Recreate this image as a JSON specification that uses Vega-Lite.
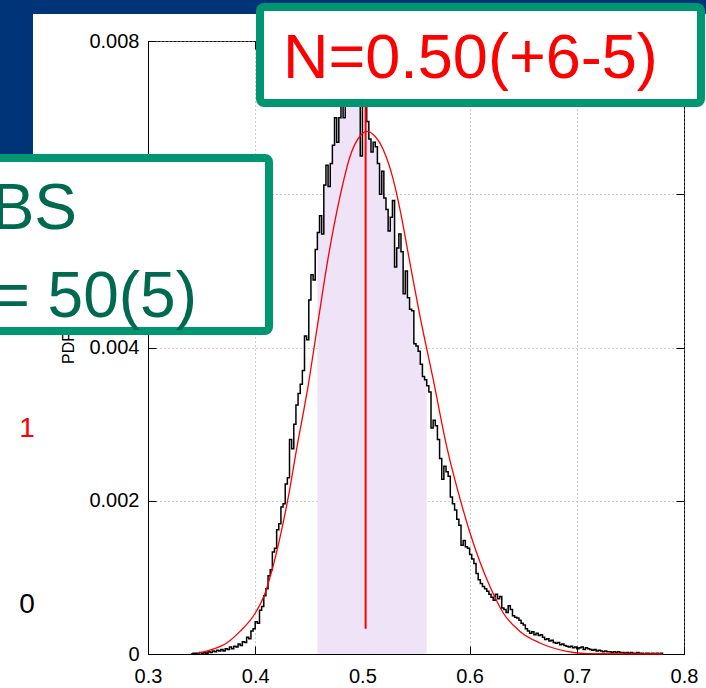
{
  "$schema": "https://vega.github.io/schema/vega-lite/v6.json",
  "width": 536,
  "height": 613,
  "autosize": {"type": "none"},
  "padding": {"left": 148, "top": 41, "right": 22, "bottom": 34},
  "background": "white",
  "config": {
    "view": {"stroke": "black", "strokeWidth": 1},
    "font": "Liberation Sans",
    "axis": {
      "domainColor": "black",
      "tickColor": "black",
      "labelColor": "black",
      "labelFont": "Liberation Sans",
      "labelFontSize": 20,
      "tickSize": -8,
      "gridColor": "#9a9a9a",
      "gridDash": [1, 3],
      "gridWidth": 1,
      "titleFont": "Liberation Sans",
      "titleFontSize": 16,
      "titleFontWeight": "normal",
      "titleColor": "black"
    }
  },
  "datasets": {
    "hist": [
      {"x":0.340,"y":0.00000},{"x":0.342,"y":0.00001},{"x":0.344,"y":0.00001},{"x":0.346,"y":0.00000},{"x":0.348,"y":0.00002},
      {"x":0.350,"y":0.00001},{"x":0.352,"y":0.00002},{"x":0.354,"y":0.00001},{"x":0.356,"y":0.00003},{"x":0.358,"y":0.00002},
      {"x":0.360,"y":0.00004},{"x":0.362,"y":0.00003},{"x":0.364,"y":0.00005},{"x":0.366,"y":0.00004},{"x":0.368,"y":0.00006},
      {"x":0.370,"y":0.00004},{"x":0.372,"y":0.00007},{"x":0.374,"y":0.00006},{"x":0.376,"y":0.00009},{"x":0.378,"y":0.00007},
      {"x":0.380,"y":0.00010},{"x":0.382,"y":0.00009},{"x":0.384,"y":0.00013},{"x":0.386,"y":0.00011},{"x":0.388,"y":0.00016},
      {"x":0.390,"y":0.00015},{"x":0.392,"y":0.00022},{"x":0.394,"y":0.00020},{"x":0.396,"y":0.00030},{"x":0.398,"y":0.00033},
      {"x":0.400,"y":0.00042},{"x":0.402,"y":0.00040},{"x":0.404,"y":0.00057},{"x":0.406,"y":0.00062},{"x":0.408,"y":0.00076},
      {"x":0.410,"y":0.00085},{"x":0.412,"y":0.00102},{"x":0.414,"y":0.00110},{"x":0.416,"y":0.00133},{"x":0.418,"y":0.00138},
      {"x":0.420,"y":0.00162},{"x":0.422,"y":0.00170},{"x":0.424,"y":0.00192},{"x":0.426,"y":0.00196},{"x":0.428,"y":0.00222},
      {"x":0.430,"y":0.00230},{"x":0.432,"y":0.00280},{"x":0.434,"y":0.00268},{"x":0.436,"y":0.00300},{"x":0.438,"y":0.00325},
      {"x":0.440,"y":0.00340},{"x":0.442,"y":0.00352},{"x":0.444,"y":0.00370},{"x":0.446,"y":0.00415},{"x":0.448,"y":0.00410},
      {"x":0.450,"y":0.00462},{"x":0.452,"y":0.00495},{"x":0.454,"y":0.00488},{"x":0.456,"y":0.00528},{"x":0.458,"y":0.00550},
      {"x":0.460,"y":0.00572},{"x":0.462,"y":0.00548},{"x":0.464,"y":0.00612},{"x":0.466,"y":0.00638},{"x":0.468,"y":0.00610},
      {"x":0.470,"y":0.00640},{"x":0.472,"y":0.00664},{"x":0.474,"y":0.00700},{"x":0.476,"y":0.00668},{"x":0.478,"y":0.00700},
      {"x":0.480,"y":0.00735},{"x":0.482,"y":0.00700},{"x":0.484,"y":0.00745},{"x":0.486,"y":0.00730},{"x":0.488,"y":0.00770},
      {"x":0.490,"y":0.00755},{"x":0.492,"y":0.00785},{"x":0.494,"y":0.00742},{"x":0.496,"y":0.00770},{"x":0.498,"y":0.00650},
      {"x":0.500,"y":0.00760},{"x":0.502,"y":0.00730},{"x":0.504,"y":0.00695},{"x":0.506,"y":0.00672},{"x":0.508,"y":0.00655},
      {"x":0.510,"y":0.00668},{"x":0.512,"y":0.00662},{"x":0.514,"y":0.00640},{"x":0.516,"y":0.00600},{"x":0.518,"y":0.00630},
      {"x":0.520,"y":0.00595},{"x":0.522,"y":0.00580},{"x":0.524,"y":0.00552},{"x":0.526,"y":0.00570},{"x":0.528,"y":0.00592},
      {"x":0.530,"y":0.00505},{"x":0.532,"y":0.00530},{"x":0.534,"y":0.00548},{"x":0.536,"y":0.00525},{"x":0.538,"y":0.00470},
      {"x":0.540,"y":0.00500},{"x":0.542,"y":0.00465},{"x":0.544,"y":0.00450},{"x":0.546,"y":0.00448},{"x":0.548,"y":0.00405},
      {"x":0.550,"y":0.00402},{"x":0.552,"y":0.00395},{"x":0.554,"y":0.00378},{"x":0.556,"y":0.00362},{"x":0.558,"y":0.00358},
      {"x":0.560,"y":0.00350},{"x":0.562,"y":0.00342},{"x":0.564,"y":0.00295},{"x":0.566,"y":0.00305},{"x":0.568,"y":0.00298},
      {"x":0.570,"y":0.00280},{"x":0.572,"y":0.00255},{"x":0.574,"y":0.00228},{"x":0.576,"y":0.00245},{"x":0.578,"y":0.00238},
      {"x":0.580,"y":0.00232},{"x":0.582,"y":0.00205},{"x":0.584,"y":0.00196},{"x":0.586,"y":0.00188},{"x":0.588,"y":0.00176},
      {"x":0.590,"y":0.00168},{"x":0.592,"y":0.00142},{"x":0.594,"y":0.00148},{"x":0.596,"y":0.00140},{"x":0.598,"y":0.00138},
      {"x":0.600,"y":0.00130},{"x":0.602,"y":0.00124},{"x":0.604,"y":0.00118},{"x":0.606,"y":0.00105},{"x":0.608,"y":0.00097},
      {"x":0.610,"y":0.00092},{"x":0.612,"y":0.00088},{"x":0.614,"y":0.00085},{"x":0.616,"y":0.00082},{"x":0.618,"y":0.00078},
      {"x":0.620,"y":0.00074},{"x":0.622,"y":0.00070},{"x":0.624,"y":0.00078},{"x":0.626,"y":0.00072},{"x":0.628,"y":0.00075},
      {"x":0.630,"y":0.00060},{"x":0.632,"y":0.00058},{"x":0.634,"y":0.00054},{"x":0.636,"y":0.00063},{"x":0.638,"y":0.00058},
      {"x":0.640,"y":0.00050},{"x":0.642,"y":0.00048},{"x":0.644,"y":0.00047},{"x":0.646,"y":0.00044},{"x":0.648,"y":0.00040},
      {"x":0.650,"y":0.00038},{"x":0.652,"y":0.00033},{"x":0.654,"y":0.00030},{"x":0.656,"y":0.00027},{"x":0.658,"y":0.00029},
      {"x":0.660,"y":0.00025},{"x":0.662,"y":0.00027},{"x":0.664,"y":0.00024},{"x":0.666,"y":0.00025},{"x":0.668,"y":0.00022},
      {"x":0.670,"y":0.00019},{"x":0.672,"y":0.00020},{"x":0.674,"y":0.00017},{"x":0.676,"y":0.00018},{"x":0.678,"y":0.00015},
      {"x":0.680,"y":0.00014},{"x":0.682,"y":0.00015},{"x":0.684,"y":0.00012},{"x":0.686,"y":0.00013},{"x":0.688,"y":0.00011},
      {"x":0.690,"y":0.00010},{"x":0.692,"y":0.00009},{"x":0.694,"y":0.00010},{"x":0.696,"y":0.00008},{"x":0.698,"y":0.00009},
      {"x":0.700,"y":0.00007},{"x":0.702,"y":0.00008},{"x":0.704,"y":0.00009},{"x":0.706,"y":0.00006},{"x":0.708,"y":0.00008},
      {"x":0.710,"y":0.00007},{"x":0.712,"y":0.00006},{"x":0.714,"y":0.00005},{"x":0.716,"y":0.00006},{"x":0.718,"y":0.00004},
      {"x":0.720,"y":0.00005},{"x":0.722,"y":0.00004},{"x":0.724,"y":0.00003},{"x":0.726,"y":0.00004},{"x":0.728,"y":0.00003},
      {"x":0.730,"y":0.00003},{"x":0.732,"y":0.00002},{"x":0.734,"y":0.00003},{"x":0.736,"y":0.00002},{"x":0.738,"y":0.00003},
      {"x":0.740,"y":0.00002},{"x":0.742,"y":0.00002},{"x":0.744,"y":0.00001},{"x":0.746,"y":0.00002},{"x":0.748,"y":0.00001},
      {"x":0.750,"y":0.00002},{"x":0.752,"y":0.00001},{"x":0.754,"y":0.00001},{"x":0.756,"y":0.00002},{"x":0.758,"y":0.00001},
      {"x":0.760,"y":0.00001},{"x":0.762,"y":0.00000},{"x":0.764,"y":0.00001},{"x":0.766,"y":0.00001},{"x":0.768,"y":0.00000},
      {"x":0.770,"y":0.00001},{"x":0.772,"y":0.00000},{"x":0.774,"y":0.00001},{"x":0.776,"y":0.00000},{"x":0.778,"y":0.00001},
      {"x":0.780,"y":0.00000}
    ],
    "fit": [
      {"x":0.347,"y":0.00001},{"x":0.360,"y":0.00006},{"x":0.3734,"y":0.000144},{"x":0.3858,"y":0.000295},
      {"x":0.4001,"y":0.000535},{"x":0.4091,"y":0.00079},{"x":0.4154,"y":0.00108},{"x":0.4231,"y":0.00152},
      {"x":0.4309,"y":0.00205},{"x":0.4387,"y":0.00268},{"x":0.4496,"y":0.00352},{"x":0.4589,"y":0.00436},
      {"x":0.4667,"y":0.00506},{"x":0.4791,"y":0.00597},{"x":0.4884,"y":0.00649},{"x":0.4978,"y":0.00676},
      {"x":0.504,"y":0.00682},{"x":0.5115,"y":0.00676},{"x":0.5195,"y":0.00658},{"x":0.5288,"y":0.00619},
      {"x":0.5351,"y":0.0058},{"x":0.5444,"y":0.0051},{"x":0.5537,"y":0.00441},{"x":0.5661,"y":0.00358},
      {"x":0.5786,"y":0.00271},{"x":0.5926,"y":0.00195},{"x":0.6004,"y":0.00158},{"x":0.6097,"y":0.0012},
      {"x":0.619,"y":0.00088},{"x":0.6314,"y":0.000535},{"x":0.647,"y":0.000295},{"x":0.6657,"y":0.000144},
      {"x":0.6906,"y":0.000034},{"x":0.709,"y":0.000005},{"x":0.78,"y":0.0}
    ],
    "vline": [{"x":0.503,"y":0.00033,"y2":0.008}],
    "bluebg": [
      {"x1":0.1526,"x2":0.8299,"y1":0.008666,"y2":0.008353},
      {"x1":0.1526,"x2":0.19272,"y1":0.008666,"y2":0.005273}
    ],
    "boxes": [
      {"x1":0.40448,"x2":0.81586,"y1":0.008444,"y2":0.007191},
      {"x1":0.1526,"x2":0.41287,"y1":0.006473,"y2":0.004215}
    ]
  },
  "layer": [
    {
      "data": {"name": "hist"},
      "transform": [{"filter": "datum.x >= 0.458 && datum.x <= 0.5601"}],
      "mark": {"type": "area", "interpolate": "step-after", "color": "#efe3f7"},
      "encoding": {
        "x": {"field": "x", "type": "quantitative",
              "scale": {"domain": [0.3, 0.8], "nice": false, "zero": false},
              "axis": {"orient": "bottom", "values": [0.3,0.4,0.5,0.6,0.7,0.8], "title": null, "labelPadding": 20, "labelFlush": false, "grid": true}},
        "y": {"field": "y", "type": "quantitative",
              "scale": {"domain": [0, 0.008], "nice": false, "zero": false},
              "axis": {"orient": "left", "values": [0,0.002,0.004,0.006,0.008], "title": "PDF", "titlePadding": 12, "labelPadding": 17,
                       "labelExpr": "datum.value == 0 ? '0' : format(datum.value, '.3f')", "grid": true}}
      }
    },
    {
      "data": {"name": "hist"},
      "mark": {"type": "line", "interpolate": "step-after", "color": "black", "strokeWidth": 1.5},
      "encoding": {
        "x": {"field": "x", "type": "quantitative", "scale": {"domain": [0.3, 0.8], "nice": false, "zero": false}, "axis": null},
        "y": {"field": "y", "type": "quantitative", "scale": {"domain": [0, 0.008], "nice": false, "zero": false}, "axis": null}
      }
    },
    {
      "data": {"name": "fit"},
      "mark": {"type": "line", "interpolate": "monotone", "color": "#ff0000", "strokeWidth": 1.3},
      "encoding": {
        "x": {"field": "x", "type": "quantitative", "scale": {"domain": [0.3, 0.8], "nice": false, "zero": false},
              "axis": {"orient": "top", "values": [0.3,0.4,0.5,0.6,0.7,0.8], "labels": false, "grid": false, "domain": false, "title": null}},
        "y": {"field": "y", "type": "quantitative", "scale": {"domain": [0, 0.008], "nice": false, "zero": false},
              "axis": {"orient": "right", "values": [0,0.002,0.004,0.006,0.008], "labels": false, "grid": false, "domain": false, "title": null}}
      }
    },
    {
      "data": {"name": "vline"},
      "mark": {"type": "rule", "color": "#ff0000", "strokeWidth": 2},
      "encoding": {
        "x": {"field": "x", "type": "quantitative", "scale": {"domain": [0.3, 0.8], "nice": false, "zero": false}, "axis": null},
        "y": {"field": "y", "type": "quantitative", "scale": {"domain": [0, 0.008], "nice": false, "zero": false}, "axis": null},
        "y2": {"field": "y2"}
      }
    },
    {
      "data": {"name": "bluebg"},
      "mark": {"type": "rect", "color": "#003478", "clip": false},
      "encoding": {
        "x": {"field": "x1", "type": "quantitative", "scale": {"domain": [0.3, 0.8], "nice": false, "zero": false}, "axis": null},
        "x2": {"field": "x2"},
        "y": {"field": "y1", "type": "quantitative", "scale": {"domain": [0, 0.008], "nice": false, "zero": false}, "axis": null},
        "y2": {"field": "y2"}
      }
    },
    {
      "data": {"name": "boxes"},
      "mark": {"type": "rect", "fill": "white", "stroke": "#009672", "strokeWidth": 8, "cornerRadius": 4, "clip": false},
      "encoding": {
        "x": {"field": "x1", "type": "quantitative", "scale": {"domain": [0.3, 0.8], "nice": false, "zero": false}, "axis": null},
        "x2": {"field": "x2"},
        "y": {"field": "y1", "type": "quantitative", "scale": {"domain": [0, 0.008], "nice": false, "zero": false}, "axis": null},
        "y2": {"field": "y2"}
      }
    },
    {
      "data": {"values": [{"x": 0.42593, "y": 0.0075174, "label": "N=0.50(+6-5)"}]},
      "mark": {"type": "text", "align": "left", "baseline": "alphabetic", "fontSize": 63, "color": "#ff0000", "font": "Liberation Sans", "clip": false},
      "encoding": {
        "x": {"field": "x", "type": "quantitative", "scale": {"domain": [0.3, 0.8], "nice": false, "zero": false}, "axis": null},
        "y": {"field": "y", "type": "quantitative", "scale": {"domain": [0, 0.008], "nice": false, "zero": false}, "axis": null},
        "text": {"field": "label"}
      }
    },
    {
      "data": {"values": [{"x": 0.23377, "y": 0.0055467, "label": "BS"}, {"x": 0.34571, "y": 0.0043982, "label": "= 50(5)"}]},
      "mark": {"type": "text", "align": "right", "baseline": "alphabetic", "fontSize": 64, "color": "#006a50", "font": "Liberation Sans", "clip": false},
      "encoding": {
        "x": {"field": "x", "type": "quantitative", "scale": {"domain": [0.3, 0.8], "nice": false, "zero": false}, "axis": null},
        "y": {"field": "y", "type": "quantitative", "scale": {"domain": [0, 0.008], "nice": false, "zero": false}, "axis": null},
        "text": {"field": "label"}
      }
    },
    {
      "data": {"values": [{"x": 0.18713, "y": 0.002832, "label": "1"}]},
      "mark": {"type": "text", "align": "center", "baseline": "alphabetic", "fontSize": 28, "color": "#ff0000", "font": "Liberation Sans", "clip": false},
      "encoding": {
        "x": {"field": "x", "type": "quantitative", "scale": {"domain": [0.3, 0.8], "nice": false, "zero": false}, "axis": null},
        "y": {"field": "y", "type": "quantitative", "scale": {"domain": [0, 0.008], "nice": false, "zero": false}, "axis": null},
        "text": {"field": "label"}
      }
    },
    {
      "data": {"values": [{"x": 0.18713, "y": 0.000535, "label": "0"}]},
      "mark": {"type": "text", "align": "center", "baseline": "alphabetic", "fontSize": 28, "color": "black", "font": "Liberation Sans", "clip": false},
      "encoding": {
        "x": {"field": "x", "type": "quantitative", "scale": {"domain": [0.3, 0.8], "nice": false, "zero": false}, "axis": null},
        "y": {"field": "y", "type": "quantitative", "scale": {"domain": [0, 0.008], "nice": false, "zero": false}, "axis": null},
        "text": {"field": "label"}
      }
    }
  ],
  "resolve": {"axis": {"x": "independent", "y": "independent"}}
}
